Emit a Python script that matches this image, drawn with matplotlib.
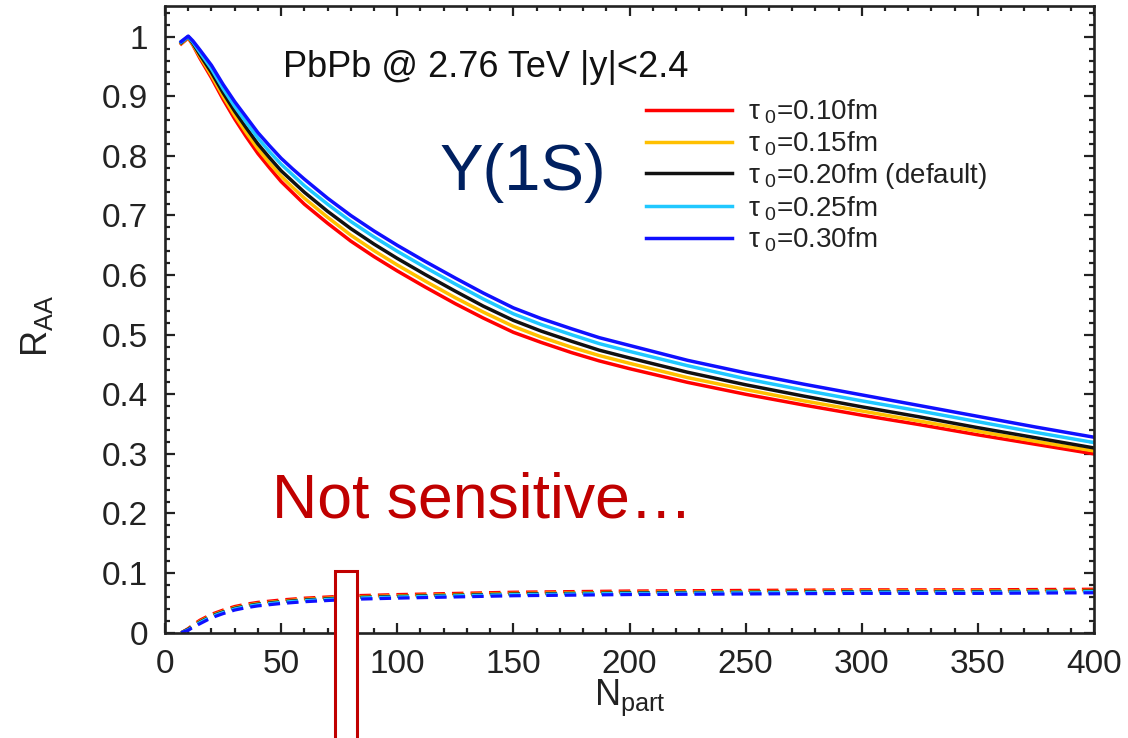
import numpy as np
import matplotlib
matplotlib.use('Agg')
import matplotlib.pyplot as plt
from matplotlib.ticker import MultipleLocator, FuncFormatter
from matplotlib.patches import Rectangle

plt.rcParams['font.family'] = ['Liberation Sans', 'DejaVu Sans']
plt.rcParams['mathtext.fontset'] = 'custom'
plt.rcParams['mathtext.rm'] = 'Liberation Sans'
plt.rcParams['mathtext.it'] = 'Liberation Sans:italic'

# solid curves: R_AA(Y(1S)) vs Npart for several tau_0
n_solid = [7, 10, 12, 15, 20, 25, 30, 35, 40, 45, 50, 55, 60, 70, 80, 90, 100, 112, 125, 137,
           150, 162, 175, 187, 200, 225, 250, 275, 300, 325, 350, 375, 400]
raa_010 = [0.988, 0.998, 0.986, 0.964, 0.931, 0.895, 0.862, 0.832, 0.804, 0.780, 0.757, 0.738, 0.719,
           0.687, 0.657, 0.631, 0.607, 0.580, 0.552, 0.528, 0.504, 0.487, 0.470, 0.456, 0.443,
           0.420, 0.400, 0.382, 0.365, 0.349, 0.332, 0.316, 0.300]
raa_015 = [0.989, 0.999, 0.987, 0.967, 0.935, 0.900, 0.868, 0.839, 0.812, 0.788, 0.766, 0.747, 0.729,
           0.697, 0.667, 0.641, 0.617, 0.590, 0.562, 0.538, 0.514, 0.496, 0.479, 0.465, 0.452,
           0.428, 0.408, 0.389, 0.372, 0.355, 0.338, 0.321, 0.305]
raa_020 = [0.990, 1.000, 0.989, 0.970, 0.940, 0.906, 0.875, 0.847, 0.820, 0.797, 0.775, 0.757, 0.739,
           0.707, 0.678, 0.652, 0.628, 0.601, 0.573, 0.548, 0.524, 0.506, 0.489, 0.474, 0.461,
           0.437, 0.416, 0.397, 0.379, 0.362, 0.344, 0.327, 0.310]
raa_025 = [0.991, 1.000, 0.991, 0.974, 0.946, 0.913, 0.883, 0.856, 0.830, 0.807, 0.786, 0.768, 0.750,
           0.719, 0.690, 0.664, 0.640, 0.613, 0.585, 0.560, 0.535, 0.517, 0.500, 0.485, 0.472,
           0.448, 0.426, 0.407, 0.389, 0.372, 0.354, 0.336, 0.319]
raa_030 = [0.992, 1.001, 0.993, 0.978, 0.952, 0.920, 0.891, 0.865, 0.839, 0.817, 0.796, 0.778, 0.761,
           0.729, 0.700, 0.674, 0.650, 0.623, 0.595, 0.570, 0.545, 0.527, 0.510, 0.495, 0.482,
           0.457, 0.436, 0.417, 0.399, 0.381, 0.363, 0.345, 0.328]

# dashed curves (regeneration part)
n_dash = [7, 10, 12, 15, 20, 25, 30, 35, 40, 50, 60, 70, 80, 100, 125, 150, 200, 250, 300, 350, 400]
reg_010 = [0.000, 0.007, 0.013, 0.021, 0.031, 0.038, 0.044, 0.048, 0.051, 0.055, 0.058, 0.060, 0.062,
           0.064, 0.066, 0.068, 0.070, 0.071, 0.072, 0.072, 0.073]
reg_015 = [0.000, 0.006, 0.012, 0.019, 0.029, 0.036, 0.042, 0.046, 0.049, 0.053, 0.056, 0.058, 0.060,
           0.062, 0.064, 0.066, 0.068, 0.069, 0.070, 0.070, 0.071]
reg_020 = [0.000, 0.006, 0.011, 0.018, 0.028, 0.035, 0.041, 0.045, 0.048, 0.052, 0.055, 0.057, 0.059,
           0.061, 0.063, 0.065, 0.067, 0.068, 0.069, 0.069, 0.070]
reg_025 = [0.000, 0.005, 0.010, 0.017, 0.027, 0.034, 0.040, 0.044, 0.047, 0.051, 0.054, 0.056, 0.058,
           0.060, 0.062, 0.064, 0.066, 0.067, 0.068, 0.068, 0.069]
reg_030 = [0.000, 0.004, 0.009, 0.015, 0.025, 0.032, 0.038, 0.042, 0.045, 0.049, 0.052, 0.054, 0.056,
           0.058, 0.060, 0.062, 0.064, 0.065, 0.066, 0.066, 0.067]

labels = [r'$\mathregular{\tau_{\ 0}}$=0.10fm', r'$\mathregular{\tau_{\ 0}}$=0.15fm',
          r'$\mathregular{\tau_{\ 0}}$=0.20fm (default)', r'$\mathregular{\tau_{\ 0}}$=0.25fm',
          r'$\mathregular{\tau_{\ 0}}$=0.30fm']
colors = ['#ff0000', '#ffc000', '#111111', '#20c8ff', '#1010ff']
solid = [raa_010, raa_015, raa_020, raa_025, raa_030]
dashed = [reg_010, reg_015, reg_020, reg_025, reg_030]

W, H = 1128, 738
fig = plt.figure(figsize=(W/100, H/100), dpi=100, facecolor='white')
ax = fig.add_axes([165/W, 1-632.7/H, (1094-165)/W, (632.7-6)/H])

for y, c, lab in zip(solid, colors, labels):
    ax.plot(n_solid, y, color=c, lw=2.5, label=lab)
for y, c in zip(dashed, colors):
    ax.plot(n_dash, y, color=c, lw=2.3, dashes=(3.6, 2.2))

ax.set_xlim(0, 400)
ax.set_ylim(0, 1.0515)
ax.xaxis.set_major_locator(MultipleLocator(50))
ax.xaxis.set_minor_locator(MultipleLocator(10))
ax.yaxis.set_major_locator(MultipleLocator(0.1))
ax.yaxis.set_minor_locator(MultipleLocator(0.02))
ax.yaxis.set_major_formatter(FuncFormatter(lambda v, p: '%g' % round(v, 2)))
ax.tick_params(which='both', direction='in', top=True, right=True, color='#222222', width=1.6)
ax.tick_params(which='major', length=7.5, labelsize=24, pad=12, labelcolor='#222222')
ax.tick_params(which='minor', length=3.8)
for s in ax.spines.values():
    s.set_linewidth(1.9)
    s.set_color('#222222')

ax.set_xlabel(r'$\mathregular{N_{part}}$', fontsize=26, color='#222222')
ax.xaxis.set_label_coords(0.5, -0.072)
ax.set_ylabel(r'$\mathregular{R_{AA}}$', fontsize=26, color='#222222')
ax.yaxis.set_label_coords(-0.118, 0.49)

leg = ax.legend(loc='upper left', bbox_to_anchor=(646/W, 1-98/H), bbox_transform=fig.transFigure,
                frameon=False, fontsize=20, handlelength=3.1, handletextpad=0.58,
                labelspacing=0.11, borderpad=0, borderaxespad=0)
for t in leg.get_texts():
    t.set_color('#222222')

fig.text(283/W, 1-76.7/H, 'PbPb @ 2.76 TeV |y|<2.4', fontsize=26, color='#111111', va='baseline')
fig.text(440/W, 1-190/H, 'Y(1S)', fontsize=47, color='#002060', va='baseline')
fig.text(272/W, 1-518/H, 'Not sensitive\u2026', fontsize=45, color='#c00000', va='baseline')

fig.add_artist(Rectangle((334.5/W, -0.02), 22/W, 0.02+(H-570.5)/H, transform=fig.transFigure,
                         facecolor='white', edgecolor='#c00000', lw=2.2, zorder=10))

fig.savefig('out.png', dpi=100)
